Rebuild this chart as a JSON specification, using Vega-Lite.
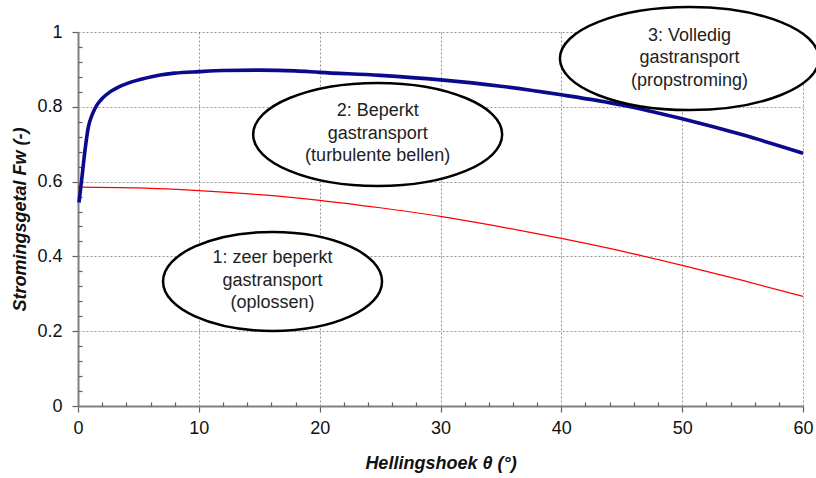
{
  "$schema": "https://vega.github.io/schema/vega-lite/v6.json",
  "width": 725,
  "height": 374,
  "autosize": "none",
  "padding": {"left": 78, "top": 32, "right": 13, "bottom": 72},
  "background": "white",
  "config": {
    "view": {"stroke": null},
    "font": "Liberation Sans",
    "axis": {
      "labelFont": "Liberation Sans",
      "labelFontSize": 18,
      "labelColor": "#111",
      "titleFont": "Liberation Sans",
      "titleFontSize": 18,
      "titleFontWeight": "bold",
      "titleFontStyle": "italic",
      "titleColor": "#111",
      "domainColor": "#808080",
      "domainWidth": 2,
      "tickColor": "#606060",
      "tickWidth": 1.2,
      "gridColor": "#7a7a7a",
      "gridDash": [2, 2],
      "gridWidth": 0.8
    }
  },
  "datasets": {
    "fw": [
      {"theta": 0.08, "fw": 0.544, "regime": "blauw"},
      {"theta": 0.3, "fw": 0.604, "regime": "blauw"},
      {"theta": 0.58, "fw": 0.684, "regime": "blauw"},
      {"theta": 0.85, "fw": 0.745, "regime": "blauw"},
      {"theta": 1.2, "fw": 0.781, "regime": "blauw"},
      {"theta": 1.55, "fw": 0.804, "regime": "blauw"},
      {"theta": 2.0, "fw": 0.822, "regime": "blauw"},
      {"theta": 2.65, "fw": 0.840, "regime": "blauw"},
      {"theta": 3.3, "fw": 0.852, "regime": "blauw"},
      {"theta": 4.2, "fw": 0.864, "regime": "blauw"},
      {"theta": 5.5, "fw": 0.876, "regime": "blauw"},
      {"theta": 6.8, "fw": 0.885, "regime": "blauw"},
      {"theta": 8.0, "fw": 0.890, "regime": "blauw"},
      {"theta": 10.0, "fw": 0.894, "regime": "blauw"},
      {"theta": 12.0, "fw": 0.897, "regime": "blauw"},
      {"theta": 15.0, "fw": 0.898, "regime": "blauw"},
      {"theta": 18.0, "fw": 0.896, "regime": "blauw"},
      {"theta": 20.0, "fw": 0.892, "regime": "blauw"},
      {"theta": 25.0, "fw": 0.884, "regime": "blauw"},
      {"theta": 30.0, "fw": 0.872, "regime": "blauw"},
      {"theta": 35.0, "fw": 0.855, "regime": "blauw"},
      {"theta": 40.0, "fw": 0.832, "regime": "blauw"},
      {"theta": 45.0, "fw": 0.805, "regime": "blauw"},
      {"theta": 50.0, "fw": 0.768, "regime": "blauw"},
      {"theta": 55.0, "fw": 0.725, "regime": "blauw"},
      {"theta": 60.0, "fw": 0.676, "regime": "blauw"},
      {"theta": 0, "fw": 0.585, "regime": "rood"},
      {"theta": 5, "fw": 0.583, "regime": "rood"},
      {"theta": 10, "fw": 0.576, "regime": "rood"},
      {"theta": 15, "fw": 0.565, "regime": "rood"},
      {"theta": 20, "fw": 0.550, "regime": "rood"},
      {"theta": 25, "fw": 0.530, "regime": "rood"},
      {"theta": 30, "fw": 0.507, "regime": "rood"},
      {"theta": 35, "fw": 0.479, "regime": "rood"},
      {"theta": 40, "fw": 0.448, "regime": "rood"},
      {"theta": 45, "fw": 0.414, "regime": "rood"},
      {"theta": 50, "fw": 0.376, "regime": "rood"},
      {"theta": 55, "fw": 0.336, "regime": "rood"},
      {"theta": 60, "fw": 0.293, "regime": "rood"}
    ],
    "zones": [
      {"zone": 1, "theta": 16.1, "fw": 0.333, "label": ["1: zeer beperkt", "gastransport", "(oplossen)"]},
      {"zone": 2, "theta": 24.8, "fw": 0.726, "label": ["2: Beperkt", "gastransport", "(turbulente bellen)"]},
      {"zone": 3, "theta": 50.6, "fw": 0.929, "label": ["3: Volledig", "gastransport", "(propstroming)"]}
    ]
  },
  "resolve": {"axis": {"x": "independent", "y": "independent"}},
  "layer": [
    {
      "data": {"name": "fw"},
      "transform": [{"filter": "datum.regime === 'rood'"}],
      "mark": {"type": "line", "color": "#ff0000", "strokeWidth": 1.2, "interpolate": "monotone"},
      "encoding": {
        "x": {
          "field": "theta", "type": "quantitative",
          "scale": {"domain": [0, 60], "nice": false, "zero": true},
          "axis": {
            "orient": "bottom",
            "values": [0, 10, 20, 30, 40, 50, 60],
            "title": "Hellingshoek  θ (°)",
            "grid": true,
            "tickSize": 6,
            "labelPadding": 7,
            "titlePadding": 17,
            "labelFlush": false
          }
        },
        "y": {
          "field": "fw", "type": "quantitative",
          "scale": {"domain": [0, 1], "nice": false},
          "axis": {
            "orient": "left",
            "values": [0, 0.2, 0.4, 0.6, 0.8, 1],
            "format": "~g",
            "title": "Stromingsgetal Fw (-)",
            "grid": true,
            "tickSize": 6,
            "labelPadding": 10,
            "titlePadding": 7,
            "labelFlush": false
          }
        }
      }
    },
    {
      "data": {"name": "fw"},
      "transform": [{"filter": "datum.regime === 'blauw'"}],
      "mark": {"type": "line", "color": "#0a0a8c", "strokeWidth": 3.6, "interpolate": "monotone"},
      "encoding": {
        "x": {
          "field": "theta", "type": "quantitative",
          "axis": {
            "orient": "bottom",
            "values": [2, 4, 6, 8, 12, 14, 16, 18, 22, 24, 26, 28, 32, 34, 36, 38, 42, 44, 46, 48, 52, 54, 56, 58],
            "labels": false, "domain": false, "grid": false, "title": null,
            "tickSize": -4
          }
        },
        "y": {
          "field": "fw", "type": "quantitative",
          "axis": {
            "orient": "left",
            "values": [0.04, 0.08, 0.12, 0.16, 0.24, 0.28, 0.32, 0.36, 0.44, 0.48, 0.52, 0.56, 0.64, 0.68, 0.72, 0.76, 0.84, 0.88, 0.92, 0.96],
            "labels": false, "domain": false, "grid": false, "title": null,
            "tickSize": -4
          }
        }
      }
    },
    {
      "data": {"name": "zones"},
      "transform": [{"filter": "datum.zone === 1"}],
      "mark": {"type": "point", "shape": "M -1 0 A 1 0.452 0 1 0 1 0 A 1 0.452 0 1 0 -1 0 Z", "size": 47961, "filled": true, "fill": "white", "stroke": "black", "strokeWidth": 2.5, "opacity": 1, "fillOpacity": 1, "strokeOpacity": 1},
      "encoding": {
        "x": {"field": "theta", "type": "quantitative", "axis": null},
        "y": {"field": "fw", "type": "quantitative", "axis": null}
      }
    },
    {
      "data": {"name": "zones"},
      "transform": [{"filter": "datum.zone === 2"}],
      "mark": {"type": "point", "shape": "M -1 0 A 1 0.414 0 1 0 1 0 A 1 0.414 0 1 0 -1 0 Z", "size": 62001, "filled": true, "fill": "white", "stroke": "black", "strokeWidth": 2.5, "opacity": 1, "fillOpacity": 1, "strokeOpacity": 1},
      "encoding": {
        "x": {"field": "theta", "type": "quantitative", "axis": null},
        "y": {"field": "fw", "type": "quantitative", "axis": null}
      }
    },
    {
      "data": {"name": "zones"},
      "transform": [{"filter": "datum.zone === 3"}],
      "mark": {"type": "point", "shape": "M -1 0 A 1 0.398 0 1 0 1 0 A 1 0.398 0 1 0 -1 0 Z", "size": 67081, "filled": true, "fill": "white", "stroke": "black", "strokeWidth": 2.5, "opacity": 1, "fillOpacity": 1, "strokeOpacity": 1},
      "encoding": {
        "x": {"field": "theta", "type": "quantitative", "axis": null},
        "y": {"field": "fw", "type": "quantitative", "axis": null}
      }
    },
    {
      "data": {"name": "zones"},
      "mark": {"type": "text", "font": "Liberation Sans", "fontSize": 18, "color": "#222", "align": "center", "baseline": "middle", "lineHeight": 22.5, "dy": -23},
      "encoding": {
        "x": {"field": "theta", "type": "quantitative", "axis": null},
        "y": {"field": "fw", "type": "quantitative", "axis": null},
        "text": {"field": "label"}
      }
    }
  ]
}
